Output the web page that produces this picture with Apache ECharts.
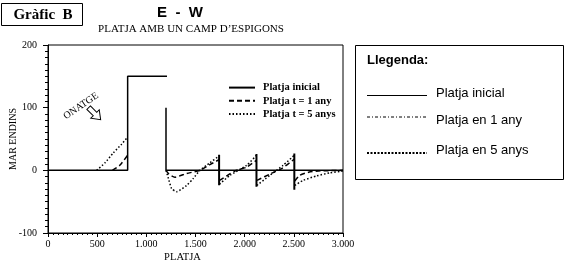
<!DOCTYPE html>
<html>
<head>
<meta charset="utf-8">
<script src="https://cdn.jsdelivr.net/npm/echarts@6/dist/echarts.min.js"></script>
<style>
html,body{margin:0;padding:0;background:#fff;}
#chart{width:565px;height:264px;}
</style>
</head>
<body>
<div id="chart"></div>
<script>
// ---- data ----
const xTickValues = [0, 500, 1000, 1500, 2000, 2500, 3000];
const xTickLabels = ['0', '500', '1.000', '1.500', '2.000', '2.500', '3.000'];
const yTickValues = [-100, 0, 100, 200];
const yTickLabels = ['-100', '0', '100', '200'];

const seriesNames = ['Platja inicial', 'Platja t = 1 any', 'Platja t = 5 anys'];
const llegendaLabels = ['Platja inicial', 'Platja en 1 any', 'Platja en 5 anys'];

// '-' marks a gap in a line
const platjaInicial = [[0, 0], [810, 0], [810, 150], [1210, 150], [1205, '-'], [1200, 100], [1200, 0], [3000, 0]];
// groins: [x, top, bottom]
const espigons = [[1740, 25, -24], [2120, 26, -26], [2505, 27, -31]];

const platja1Any = [
  [655, 0], [730, 8], [810, 24], [1000, '-'],
  [1200, 0], [1230, -6], [1290, -11], [1410, -5], [1545, 0], [1646, 9], [1740, 17], [1742, '-'],
  [1745, -16], [1900, -1], [2020, 5], [2120, 16], [2122, '-'],
  [2125, -16], [2270, -5], [2380, 3], [2505, 18], [2507, '-'],
  [2510, -17], [2560, -8], [2650, -3], [2750, -1], [3000, 0]
];
const platja5Anys = [
  [495, 0], [580, 12], [665, 28], [750, 42], [810, 53], [1000, '-'],
  [1200, 0], [1225, -13], [1257, -29], [1307, -34], [1410, -24], [1477, -13], [1545, 0], [1646, 12], [1740, 23], [1742, '-'],
  [1745, -22], [1850, -8], [2020, 8], [2120, 24], [2122, '-'],
  [2125, -24], [2256, -8], [2391, 8], [2505, 24], [2507, '-'],
  [2510, -24], [2595, -16], [2730, -9], [2866, -4], [3000, -1]
];

// ---- build ----
const espigonsData = [];
espigons.forEach(g => { espigonsData.push([g[0], g[1]], [g[0], g[2]], [g[0], '-']); });

const SERIF = '"Liberation Serif", "DejaVu Serif", serif';
const SANS = '"Liberation Sans", Arial, sans-serif';

const chart = echarts.init(document.getElementById('chart'), null, {renderer: 'canvas'});

const legX1 = 367, legX2 = 427, legTextX = 436;
const legRows = [93, 120, 150];

chart.setOption({
  animation: false,
  backgroundColor: '#fff',
  grid: {left: 48, top: 45, width: 295, height: 188, show: true, borderColor: '#000', borderWidth: 1,
         backgroundColor: 'transparent', containLabel: false, outerBoundsMode: 'none'},
  xAxis: {
    type: 'value', min: 0, max: 3000, interval: 500,
    name: 'PLATJA', nameLocation: 'middle', nameGap: 19, nameMoveOverlap: false,
    nameTextStyle: {fontFamily: SERIF, fontSize: 10.5, color: '#000', padding: [0, 26, 0, 0]},
    axisLine: {onZero: false, lineStyle: {color: '#000', width: 1}},
    axisTick: {show: true, length: 4, lineStyle: {color: '#000'}},
    minorTick: {show: true, splitNumber: 10, length: 2, lineStyle: {color: '#000'}},
    splitLine: {show: false},
    axisLabel: {
      margin: 6, fontFamily: SERIF, fontSize: 10, color: '#000',
      formatter: v => { const i = xTickValues.indexOf(v); return i >= 0 ? xTickLabels[i] : ''; }
    }
  },
  yAxis: {
    type: 'value', min: -100, max: 200, interval: 100,
    name: 'MAR ENDINS', nameLocation: 'middle', nameGap: 30, nameRotate: 90, nameMoveOverlap: false,
    nameTextStyle: {fontFamily: SERIF, fontSize: 10, color: '#000'},
    axisLine: {onZero: false, lineStyle: {color: '#000', width: 1}},
    axisTick: {show: true, length: 5, lineStyle: {color: '#000'}},
    minorTick: {show: true, splitNumber: 10, length: 3, lineStyle: {color: '#000'}},
    splitLine: {show: false},
    axisLabel: {
      margin: 11, fontFamily: SERIF, fontSize: 10, color: '#000',
      formatter: v => { const i = yTickValues.indexOf(v); return i >= 0 ? yTickLabels[i] : ''; }
    }
  },
  legend: {
    data: seriesNames, orient: 'vertical', left: 223, top: 77,
    itemWidth: 26, itemHeight: 14, itemGap: 2,
    itemStyle: {opacity: 0},
    textStyle: {fontFamily: SERIF, fontSize: 10.5, fontWeight: 'bold', color: '#000', padding: [0, 0, 0, 3]},
    selectedMode: false
  },
  series: [
    {name: seriesNames[0], type: 'line', data: platjaInicial, symbol: 'none', color: '#000',
     lineStyle: {color: '#000', width: 1.5, type: 'solid'}, z: 3},
    {name: 'Espigons', type: 'line', data: espigonsData, symbol: 'none', color: '#000',
     lineStyle: {color: '#000', width: 2, type: 'solid'}, z: 4},
    {name: seriesNames[1], type: 'line', data: platja1Any, symbol: 'none', color: '#000', smooth: 0.2,
     lineStyle: {color: '#000', width: 1.5, type: [5, 3]}, z: 5},
    {name: seriesNames[2], type: 'line', data: platja5Anys, symbol: 'none', color: '#000', smooth: 0.2,
     lineStyle: {color: '#000', width: 1.5, type: [1.5, 2]}, z: 5}
  ],
  graphic: [
    {type: 'rect', shape: {x: 1.5, y: 3.5, width: 81, height: 22}, style: {fill: 'none', stroke: '#000', lineWidth: 1}},
    {type: 'text', x: 43, y: 15, style: {text: 'Gràfic  B', font: 'bold 15px ' + SERIF, fill: '#000', align: 'center', verticalAlign: 'middle'}},
    {type: 'text', x: 180, y: 13, style: {text: 'E  -  W', font: 'bold 15px ' + SANS, fill: '#000', align: 'center', verticalAlign: 'middle'}},
    {type: 'text', x: 191, y: 29, style: {text: 'PLATJA AMB UN CAMP D\u2019ESPIGONS', font: '11px ' + SERIF, fill: '#000', align: 'center', verticalAlign: 'middle'}},
    {type: 'text', x: 81, y: 106, rotation: 0.6, style: {text: 'ONATGE', font: '10px ' + SERIF, fill: '#000', align: 'center', verticalAlign: 'middle'}},
    {type: 'polygon', x: 95, y: 114, rotation: -Math.PI / 4,
     shape: {points: [[-9, -2.5], [0, -2.5], [0, -6], [8, 0], [0, 6], [0, 2.5], [-9, 2.5]]},
     style: {fill: '#fff', stroke: '#000', lineWidth: 1}},
    // right legend box
    {type: 'rect', shape: {x: 355.5, y: 45.5, width: 208, height: 134}, style: {fill: 'none', stroke: '#000', lineWidth: 1}},
    {type: 'text', x: 367, y: 60, style: {text: 'Llegenda:', font: 'bold 13px ' + SANS, fill: '#000', verticalAlign: 'middle'}},
    {type: 'line', shape: {x1: legX1, y1: legRows[0] + 2.5, x2: legX2, y2: legRows[0] + 2.5}, style: {stroke: '#000', lineWidth: 1}},
    {type: 'line', shape: {x1: legX1, y1: legRows[1] - 3, x2: legX2, y2: legRows[1] - 3}, style: {stroke: '#000', lineWidth: 1, lineDash: [3, 2, 1, 2]}},
    {type: 'line', shape: {x1: legX1, y1: legRows[2] + 3, x2: legX2, y2: legRows[2] + 3}, style: {stroke: '#000', lineWidth: 2, lineDash: [2, 1.5]}},
    {type: 'text', x: legTextX, y: legRows[0], style: {text: llegendaLabels[0], font: '13px ' + SANS, fill: '#000', verticalAlign: 'middle'}},
    {type: 'text', x: legTextX, y: legRows[1], style: {text: llegendaLabels[1], font: '13px ' + SANS, fill: '#000', verticalAlign: 'middle'}},
    {type: 'text', x: legTextX, y: legRows[2], style: {text: llegendaLabels[2], font: '13px ' + SANS, fill: '#000', verticalAlign: 'middle'}}
  ]
});
</script>
</body>
</html>
